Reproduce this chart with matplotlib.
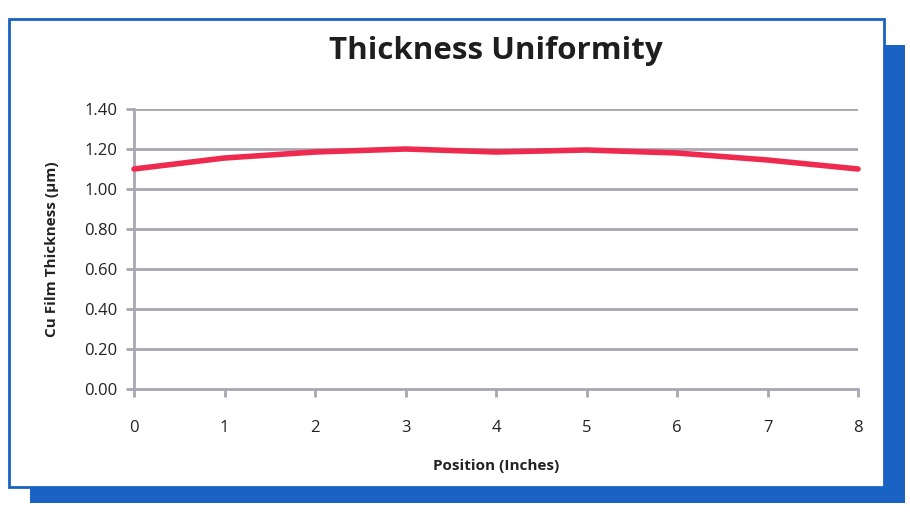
import numpy as np
import matplotlib
matplotlib.use('Agg')
import matplotlib.pyplot as plt
from matplotlib.patches import Rectangle

# data
position = [0, 1, 2, 3, 4, 5, 6, 7, 8]
thickness = [1.10, 1.155, 1.185, 1.20, 1.185, 1.195, 1.18, 1.145, 1.10]
yticks = [0.0, 0.2, 0.4, 0.6, 0.8, 1.0, 1.2, 1.4]

W, H = 910, 517
fig = plt.figure(figsize=(W/100, H/100), dpi=100)

blue = '#1a62c4'
# shadow behind the card
fig.patches.append(Rectangle((30/W, 1-503/H), (905-30)/W, (503-45)/H,
                             transform=fig.transFigure, facecolor=blue,
                             edgecolor='none', zorder=0))
# white card with a thin blue edge
fig.patches.append(Rectangle((9/W, 1-487/H), (884-9)/W, (487-19)/H,
                             transform=fig.transFigure, facecolor='white',
                             edgecolor=blue, linewidth=2, zorder=1))

ax = fig.add_axes([134/W, 1-389/H, (858-134)/W, (389-109)/H])
ax.set_zorder(2)
ax.patch.set_alpha(0)

grid_col = '#aaa6b2'
for v in yticks[1:]:
    ax.axhline(v, color=grid_col, lw=2, zorder=1)

ax.plot(position, thickness, color='#ee2a4e', lw=4, solid_joinstyle='round',
        solid_capstyle='round', zorder=3, clip_on=False)

ax.set_xlim(0, 8)
ax.set_ylim(0, 1.4)
ax.set_yticks(yticks)
ax.set_yticklabels(['%.2f' % v for v in yticks])
ax.set_xticks(position)

for s in ['top', 'right']:
    ax.spines[s].set_visible(False)
for s in ['left', 'bottom']:
    ax.spines[s].set_color(grid_col)
    ax.spines[s].set_linewidth(2)
ax.tick_params(axis='y', direction='out', length=6, width=2, color=grid_col,
               labelsize=12, pad=6, labelcolor='#222222')
ax.tick_params(axis='x', direction='out', length=6, width=2, color=grid_col,
               labelsize=12, pad=16, labelcolor='#222222')
for lab in ax.get_xticklabels() + ax.get_yticklabels():
    lab.set_family('Open Sans')

ax.set_xlabel('Position (Inches)', fontsize=11, fontweight='bold',
              family='Open Sans', labelpad=17, color='#222222')
ax.set_ylabel('Cu Film Thickness (µm)', fontsize=11, fontweight='bold',
              family='Open Sans', labelpad=18, color='#222222')

fig.text(496/W, 1-51/H, 'Thickness Uniformity', ha='center', va='center',
         fontsize=22.5, fontweight='bold', family='Open Sans', color='#1e1e1e',
         zorder=3)

fig.savefig('out.png', dpi=100)
